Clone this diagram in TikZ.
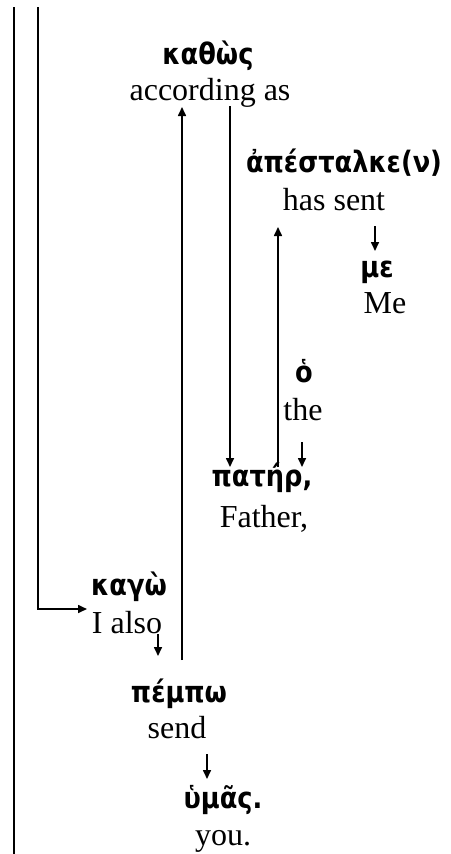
\documentclass[tikz,border=0pt]{standalone}
\usepackage{fontspec}
\setmainfont{Liberation Serif}
\newfontfamily\grk[FakeStretch=0.87]{DejaVu Sans Bold}
\usetikzlibrary{arrows.meta}
\tikzset{
  gk/.style={inner sep=0pt, anchor=base, font=\grk\fontsize{29.5}{34}\selectfont},
  en/.style={inner sep=0pt, anchor=base, font=\fontsize{32}{38}\selectfont},
  conn/.style={line width=1.6pt},
  arr/.style={conn, -{Triangle[length=9pt,width=8pt]}},
}
\begin{document}
\begin{tikzpicture}[x=1pt,y=-1pt]
\useasboundingbox (0,0) rectangle (450,854);
% words
\node[gk] (kathos) at (208,64) {καθὼς};
\node[en] (kathosE) at (210,100) {according as};
\node[gk] (apest) at (344,172) {ἀπέσταλκε(ν)};
\node[en] (apestE) at (334,210) {has sent};
\node[gk] (me) at (377,277) {με};
\node[en] (meE) at (385,313) {Me};
\node[gk] (ho) at (304,382) {ὁ};
\node[en] (hoE) at (303,420) {the};
\node[gk] (pater) at (262,486) {πατήρ,};
\node[en] (paterE) at (264,527) {Father,};
\node[gk] (kago) at (129,595) {καγὼ};
\node[en] (kagoE) at (127,633) {I also};
\node[gk] (pempo) at (179,702) {πέμπω};
\node[en] (pempoE) at (177,738) {send};
\node[gk] (humas) at (223,808) {ὑμᾶς.};
\node[en] (humasE) at (223,845) {you.};
% connector end points
\coordinate (top1) at (14,7);
\coordinate (bot1) at (14,854);
\coordinate (top2) at (38,7);
\coordinate (bend2) at (38,609);
\coordinate (kagoIn) at (87,609);
\coordinate (pempoOut) at (182,660);
\coordinate (kathosIn) at (182,107);
\coordinate (kathosOut) at (230,106);
\coordinate (paterIn) at (230,467);
\coordinate (paterOut) at (278,467);
\coordinate (apestIn) at (278,227);
\coordinate (apestOut) at (375,226);
\coordinate (meIn) at (375,251);
\coordinate (hoOut) at (302,442);
\coordinate (paterIn2) at (302,467);
\coordinate (kagoOut) at (158,634);
\coordinate (pempoIn) at (158,656);
\coordinate (pempoOut2) at (207,754);
\coordinate (humasIn) at (207,779);
% connectors
\draw[conn] (top1) -- (bot1);
\draw[arr] (top2) -- (bend2) -- (kagoIn);
\draw[arr] (pempoOut) -- (kathosIn);
\draw[arr] (kathosOut) -- (paterIn);
\draw[arr] (paterOut) -- (apestIn);
\draw[arr] (apestOut) -- (meIn);
\draw[arr] (hoOut) -- (paterIn2);
\draw[arr] (kagoOut) -- (pempoIn);
\draw[arr] (pempoOut2) -- (humasIn);
\end{tikzpicture}
\end{document}
